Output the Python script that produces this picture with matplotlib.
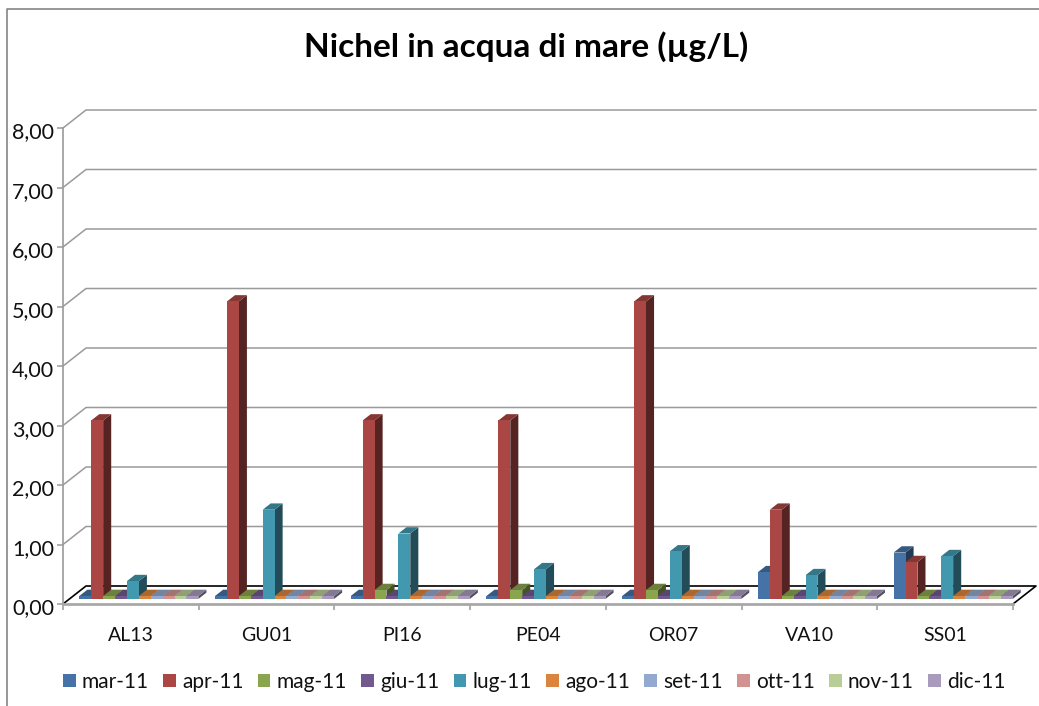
import matplotlib
matplotlib.use("Agg")
import matplotlib.pyplot as plt
from matplotlib.patches import Polygon, Patch
from matplotlib.lines import Line2D
from matplotlib.colors import to_rgb
from matplotlib.transforms import ScaledTranslation

stations = ["AL13", "GU01", "PI16", "PE04", "OR07", "VA10", "SS01"]
months = ["mar-11", "apr-11", "mag-11", "giu-11", "lug-11", "ago-11", "set-11", "ott-11", "nov-11", "dic-11"]
colors = ["#4572A7", "#AA4643", "#89A54E", "#71588F", "#4198AF", "#DB843D", "#93A9CF", "#D19392", "#B9CD96", "#A99BBD"]
mar = [0.05, 0.05, 0.05, 0.05, 0.05, 0.45, 0.78]
apr = [3.0, 5.0, 3.0, 3.0, 5.0, 1.5, 0.62]
mag = [0.05, 0.05, 0.15, 0.15, 0.15, 0.05, 0.05]
giu = [0.05, 0.05, 0.05, 0.05, 0.05, 0.05, 0.05]
lug = [0.3, 1.5, 1.1, 0.5, 0.8, 0.4, 0.72]
ago = [0.05] * 7
set_ = [0.05] * 7
ott = [0.05] * 7
nov = [0.05] * 7
dic = [0.05] * 7
series = [mar, apr, mag, giu, lug, ago, set_, ott, nov, dic]
yticks = [0, 1, 2, 3, 4, 5, 6, 7, 8]

W, H = 1039, 706
plt.rcParams["font.family"] = ["Lato", "DejaVu Sans"]
fig = plt.figure(figsize=(W / 100, H / 100), dpi=100)
L, R, T, B = 63, 1013, 128, 604
ax = fig.add_axes([L / W, 1 - B / H, (R - L) / W, (B - T) / H])
ax.set_xlim(0, len(stations))
ax.set_ylim(0, 8)

# depth of the 3D box, in data units
cat_px = (R - L) / len(stations)
val_px = (B - T) / 8
DX, DY = 23 / cat_px, 18 / val_px


def proj(x, y, d):
    return (x + d * DX, y + d * DY)


GRID = "#9a9a9a"
for v in yticks[1:]:
    ax.plot([0, DX, len(stations) + DX], [v, v + DY, v + DY], color=GRID, lw=1.1, clip_on=False, zorder=1)
n = len(stations)
ax.plot([0, DX, n + DX, n], [0, DY, DY, 0], color="black", lw=1.2, clip_on=False, zorder=1.5)

# 3D bars
start, bw = 0.073, 0.0877
d0, d1 = 0.28, 0.63
z = 2
for s, (vals, col) in enumerate(zip(series, colors)):
    rgb = to_rgb(col)
    side = tuple(c * 0.5 for c in rgb)
    top = tuple(c * 0.78 for c in rgb)
    for i, v in enumerate(vals):
        x0 = i + start + s * bw
        x1 = x0 + bw
        fx0, base = proj(x0, 0, d0)
        fx1, ftop = proj(x1, v, d0)
        bx1, btop = proj(x1, v, d1)
        bx0, _ = proj(x0, v, d1)
        _, bbase = proj(x1, 0, d1)
        zo = z + i * 0.001 + s * 0.1
        ax.add_patch(Polygon([(fx1, base), (bx1, bbase), (bx1, btop), (fx1, ftop)], fc=side, ec="none", clip_on=False, zorder=zo))
        ax.add_patch(Polygon([(fx0, ftop), (bx0, btop), (bx1, btop), (fx1, ftop)], fc=top, ec="none", clip_on=False, zorder=zo))
        ax.bar(fx0, v, width=fx1 - fx0, bottom=base, align="edge", color=col, lw=0, clip_on=False, zorder=zo + 0.01)

ax.set_yticks(yticks)
ax.set_yticklabels([f"{v:.2f}".replace(".", ",") for v in yticks], fontsize=15.5, color="#111111")
ax.set_xticks(range(n + 1))
ax.set_xticklabels([])
ax.set_xticks([i + 0.5 for i in range(n)], minor=True)
ax.set_xticklabels(stations, minor=True, fontsize=14, color="#111111")
ax.tick_params(axis="x", which="major", length=4.5, width=1.1, color=GRID)
ax.tick_params(axis="x", which="minor", length=0, pad=16.5)
ax.tick_params(axis="y", length=4, width=1.1, color=GRID, pad=2.5)
shift = ScaledTranslation(0, -2.5 / 100, fig.dpi_scale_trans)
for lab in ax.get_yticklabels():
    lab.set_transform(lab.get_transform() + shift)
ax.patch.set_alpha(0)
for k in ("top", "right"):
    ax.spines[k].set_visible(False)
ax.spines["left"].set_color(GRID)
ax.spines["left"].set_linewidth(1.2)
ax.spines["bottom"].set_color("#a8a8a8")
ax.spines["bottom"].set_linewidth(2)
ax.spines["bottom"].set_zorder(10)

fig.text(526.5 / W, 1 - 46.5 / H, "Nichel in acqua di mare (µg/L)", ha="center", va="center",
         fontsize=24, fontweight="bold", color="black")

# chart frame
fig.add_artist(Line2D([6.5 / W, 6.5 / W, 1], [0, 1 - 8.5 / H, 1 - 8.5 / H], color="#858585", lw=1.2))

handles = [Patch(fc=c, ec="none", label=m) for c, m in zip(colors, months)]
fig.legend(handles=handles, ncol=10, loc="center left", bbox_to_anchor=(63 / W, 1 - 682 / H),
           frameon=False, fontsize=15, handlelength=0.6, handleheight=0.6, handletextpad=0.3,
           columnspacing=0.69, borderpad=0, borderaxespad=0, labelcolor="#111111")

fig.savefig("out.png", dpi=100)
